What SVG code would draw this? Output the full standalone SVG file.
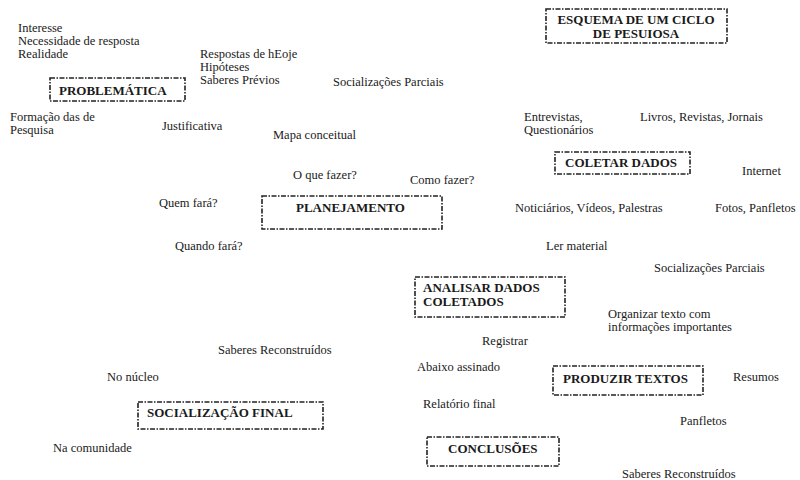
<svg xmlns="http://www.w3.org/2000/svg" width="800" height="480" viewBox="0 0 800 480">
<style>
text{font-family:'Liberation Serif','DejaVu Serif',serif;fill:#1a1a1a}
.t text{font-size:12.5px}
.s{font-size:11px}
.b{font-size:13px;font-weight:bold}
.box{fill:none;stroke:#222;stroke-width:1.6;stroke-dasharray:5 1.5 1.5 1.5}
</style>
<rect width="800" height="480" fill="#fff"/>
<g id="title"><rect class="box" x="546" y="9" width="181" height="34"/><text class="b" x="636" y="24" text-anchor="middle">ESQUEMA DE UM CICLO</text><text class="b" x="636" y="38" text-anchor="middle">DE PESUIOSA</text></g>
<g id="problematica"><rect class="box" x="50" y="78" width="135" height="23"/><text class="b" x="59" y="95">PROBLEMÁTICA</text></g>
<g id="planejamento"><rect class="box" x="262" y="196" width="180" height="33"/><text class="b" x="296" y="212">PLANEJAMENTO</text></g>
<g id="coletar"><rect class="box" x="555" y="152" width="135" height="22"/><text class="b" x="565" y="167">COLETAR DADOS</text></g>
<g id="analisar"><rect class="box" x="415" y="277" width="150" height="40"/><text class="b" x="423" y="292">ANALISAR DADOS</text><text class="b" x="423" y="306">COLETADOS</text></g>
<g id="produzir"><rect class="box" x="553" y="366" width="150" height="29"/><text class="b" x="563" y="383">PRODUZIR TEXTOS</text></g>
<g id="conclusoes"><rect class="box" x="427" y="437" width="132" height="29"/><text class="b" x="448" y="453">CONCLUSÕES</text></g>
<g id="socializacao-final"><rect class="box" x="138" y="402" width="185" height="27"/><text class="b" x="147" y="417">SOCIALIZAÇÃO FINAL</text></g>
<g id="labels" class="t">
<text x="18" y="32">Interesse</text>
<text x="18" y="45">Necessidade de resposta</text>
<text x="18" y="58">Realidade</text>
<text x="200" y="58">Respostas de hEoje</text>
<text x="200" y="71">Hipóteses</text>
<text x="200" y="84">Saberes Prévios</text>
<text x="333" y="86">Socializações Parciais</text>
<text x="10" y="121">Formação das de</text>
<text x="10" y="134">Pesquisa</text>
<text x="162" y="130">Justificativa</text>
<text x="273" y="139">Mapa conceitual</text>
<text x="524" y="121">Entrevistas,</text>
<text x="524" y="134">Questionários</text>
<text x="640" y="121">Livros, Revistas, Jornais</text>
<text x="293" y="179">O que fazer?</text>
<text x="410" y="184">Como fazer?</text>
<text x="159" y="207">Quem fará?</text>
<text x="175" y="250">Quando fará?</text>
<text x="742" y="175">Internet</text>
<text x="515" y="212">Noticiários, Vídeos, Palestras</text>
<text x="715" y="212">Fotos, Panfletos</text>
<text x="546" y="250">Ler material</text>
<text x="654" y="272">Socializações Parciais</text>
<text class="s" x="608" y="318">Organizar texto com</text>
<text class="s" x="608" y="331">informações importantes</text>
<text x="482" y="345">Registrar</text>
<text x="218" y="354">Saberes Reconstruídos</text>
<text x="417" y="371">Abaixo assinado</text>
<text x="107" y="381">No núcleo</text>
<text x="733" y="381">Resumos</text>
<text x="423" y="408">Relatório final</text>
<text x="680" y="425">Panfletos</text>
<text x="53" y="452">Na comunidade</text>
<text x="622" y="478">Saberes Reconstruídos</text>
</g>
<g id="connectors"/>
</svg>
